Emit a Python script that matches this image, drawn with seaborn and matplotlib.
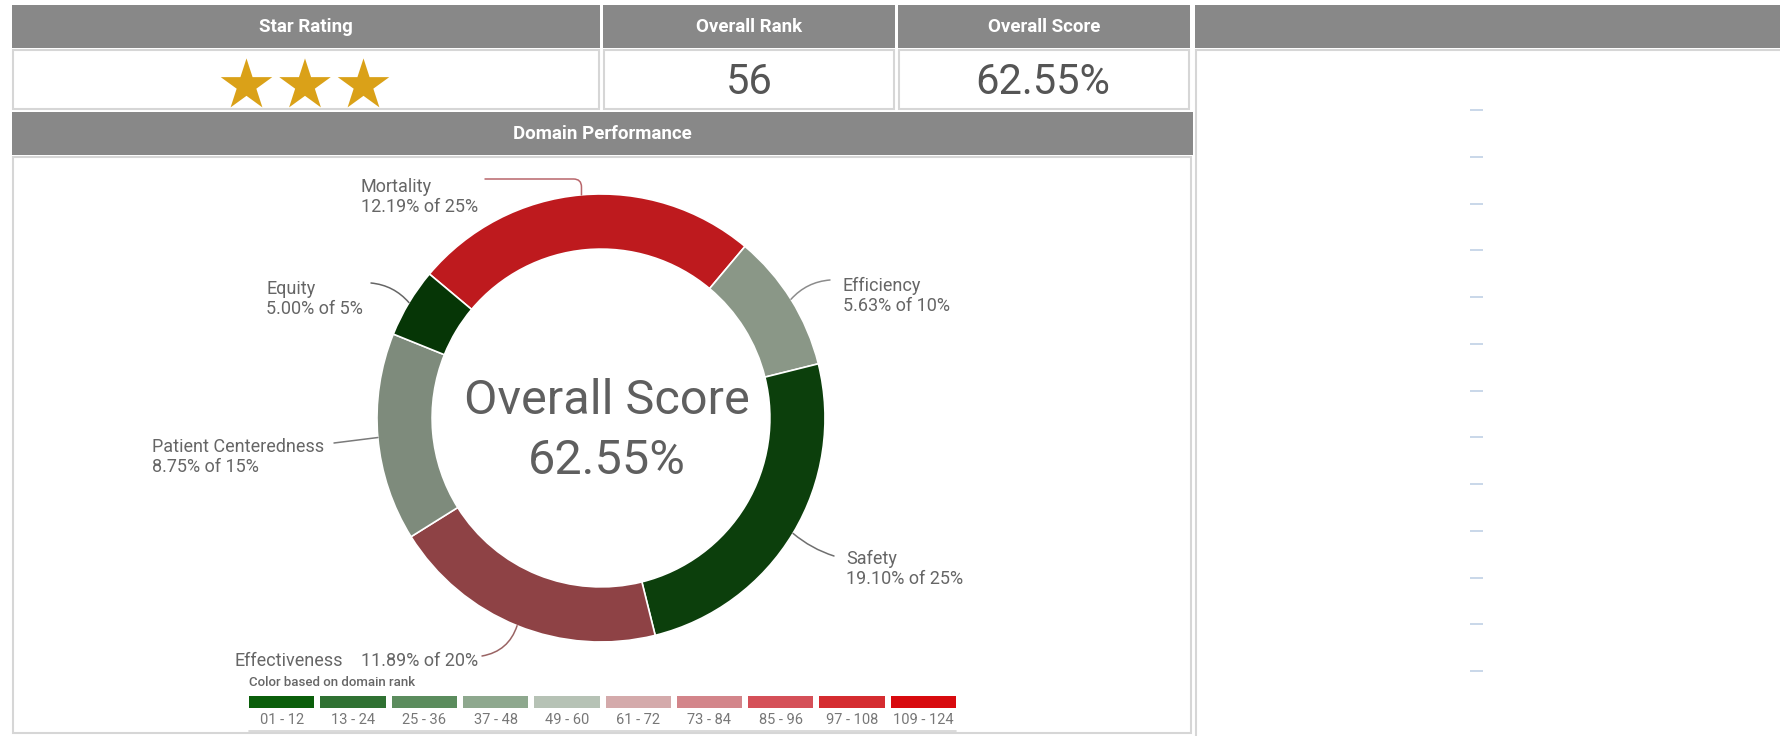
import numpy as np
import matplotlib
matplotlib.use("Agg")
import matplotlib.pyplot as plt
from matplotlib.patches import Rectangle
from matplotlib.colors import ListedColormap
import seaborn as sns

# ---- data ----
domains = ["Mortality", "Efficiency", "Safety", "Effectiveness",
           "Patient Centeredness", "Equity"]
weights = [25, 10, 25, 20, 15, 5]
earned = [12.19, 5.63, 19.10, 11.89, 8.75, 5.00]
domain_colors = ["#be1a1e", "#8a9787", "#0c3f0c", "#8e4245", "#7e8b7c", "#063606"]

star_rating = 3
overall_rank = 56
overall_score = 62.55

rank_labels = ["01 - 12", "13 - 24", "25 - 36", "37 - 48", "49 - 60",
               "61 - 72", "73 - 84", "85 - 96", "97 - 108", "109 - 124"]
rank_colors = ["#0a5e0a", "#2f7132", "#5b8c5d", "#8ea88e", "#b6c2b5",
               "#d4aaab", "#d3858a", "#d55058", "#d52c30", "#d80a0e"]

empty_ticks = list(range(13))

sns.set_theme(style="white")
plt.rcParams['font.family'] = ['Roboto', 'DejaVu Sans']

W, H = 1780, 736
fig = plt.figure(figsize=(W / 100, H / 100), dpi=100, facecolor='white')


def frac(x, y, w, h):
    # pixel box (top-left origin) -> figure fraction
    return [x / W, 1 - (y + h) / H, w / W, h / H]


bg = fig.add_axes([0, 0, 1, 1])
bg.set_xlim(0, W)
bg.set_ylim(H, 0)
bg.axis('off')

header_gray = '#888888'
border = '#d6d6d6'


def box(x, y, w, h, face='white', edge='none', lw=0):
    bg.add_patch(Rectangle((x, y), w, h, facecolor=face, edgecolor=edge, linewidth=lw))


# header row
for x, w, title in [(12, 588, "Star Rating"), (603, 292, "Overall Rank"),
                    (898, 292, "Overall Score"), (1195, 585, "")]:
    box(x, 5, w, 43, header_gray)
    if title:
        bg.text(x + w / 2, 27, title, ha='center', va='center', color='white',
                fontsize=13.5, fontweight='bold')

# value row
for x, w in [(13, 586), (604, 290), (899, 290)]:
    box(x, 50, w, 59, edge=border, lw=1.5)
bg.text(749, 82, str(overall_rank), ha='center', va='center', fontsize=30, color='#555555')
bg.text(1043, 82, f"{overall_score:.2f}%", ha='center', va='center', fontsize=30,
        color='#555555')

star_x = [305 + (i - (star_rating - 1) / 2) * 58.5 for i in range(star_rating)]
sns.scatterplot(x=star_x, y=[85.5] * star_rating, marker='*', s=39 ** 2,
                color='#daa118', edgecolor='none', ax=bg, legend=False)

# domain panel
box(12, 112, 1181, 43, header_gray)
bg.text(602, 134, "Domain Performance", ha='center', va='center', color='white',
        fontsize=13.5, fontweight='bold')
box(13, 157, 1178, 576, edge=border, lw=1.5)

# right (empty) panel
box(1196, 50, 600, 700, edge=border, lw=1.5)

# donut
cx, cy, R = 601, 418, 224
ax_pie = fig.add_axes(frac(cx - R, cy - R, 2 * R, 2 * R))
wedges, _ = ax_pie.pie(weights, colors=domain_colors, startangle=140, counterclock=False,
                       radius=1, wedgeprops=dict(width=0.246, edgecolor='white',
                                                 linewidth=1.2))
ax_pie.set_xlim(-1, 1)
ax_pie.set_ylim(-1, 1)
ax_pie.text(0.025, 0.078, "Overall Score", ha='center', va='center', fontsize=35,
            color='#5f5f5f')
ax_pie.text(0.025, -0.19, f"{overall_score:.2f}%", ha='center', va='center', fontsize=35,
            color='#5f5f5f')

label_layout = {
    "Mortality": dict(x=361, y=186, end=(485, 179),
                      conn="angle,angleA=0,angleB=90,rad=8", color='#b8666b'),
    "Efficiency": dict(x=843, y=285, end=(830, 280), conn="arc3,rad=0.2", color='#8c8c8c'),
    "Safety": dict(x=846, y=558, end=(834, 556), conn="arc3,rad=-0.1", color='#6f6f6f'),
    "Effectiveness": dict(x=234, y=661, end=(482, 656), conn="arc3,rad=0.3",
                          color='#9a6464'),
    "Patient Centeredness": dict(x=152, y=446, end=(334, 443), conn="arc3,rad=0",
                                 color='#7a7a7a'),
    "Equity": dict(x=266, y=288, end=(371, 283), conn="arc3,rad=-0.2", color='#666666'),
}

for wedge, name, w, e in zip(wedges, domains, weights, earned):
    mid = np.deg2rad((wedge.theta1 + wedge.theta2) / 2)
    lay = label_layout[name]
    ax_pie.annotate("", xy=(np.cos(mid), np.sin(mid)), xycoords='data',
                    xytext=lay['end'], textcoords=bg.transData, annotation_clip=False,
                    arrowprops=dict(arrowstyle='-', color=lay['color'], lw=1.1,
                                    shrinkA=0, shrinkB=0, connectionstyle=lay['conn']))
    value = f"{e:.2f}% of {w}%"
    if name == "Effectiveness":
        bg.text(lay['x'], lay['y'], name, ha='left', va='center', fontsize=13,
                color='#666666')
        bg.text(361, lay['y'], value, ha='left', va='center', fontsize=13, color='#666666')
    else:
        bg.text(lay['x'], lay['y'] + 11, f"{name}\n{value}", ha='left', va='center',
                fontsize=13, color='#666666', linespacing=1.2)

# rank colour legend
bg.text(249, 683, "Color based on domain rank", ha='left', va='center', fontsize=9.5,
        color='#666666', fontweight='medium')
ax_leg = fig.add_axes(frac(246, 693, 713, 18))
sns.heatmap(np.arange(len(rank_labels)).reshape(1, -1), ax=ax_leg,
            cmap=ListedColormap(rank_colors), cbar=False, linewidths=4.3,
            linecolor='white', xticklabels=rank_labels, yticklabels=False)
ax_leg.tick_params(axis='x', length=0, pad=1.5, labelsize=10.5, labelcolor='#777777',
                   rotation=0)
bg.plot([249, 956], [731, 731], color='#d4d4d4', lw=1.2)

# empty chart on the right: only its tick marks show
ax_r = fig.add_axes(frac(1483, 110, 100, 561))
ax_r.set_ylim(empty_ticks[-1], empty_ticks[0])
ax_r.set_yticks(empty_ticks)
ax_r.set_yticklabels([])
ax_r.set_xticks([])
for s in ax_r.spines.values():
    s.set_visible(False)
ax_r.patch.set_alpha(0)
ax_r.tick_params(axis='y', left=True, length=9.4, width=1.4, color='#c9d7e9',
                 direction='out')

fig.savefig("out.png", dpi=100, facecolor='white')
